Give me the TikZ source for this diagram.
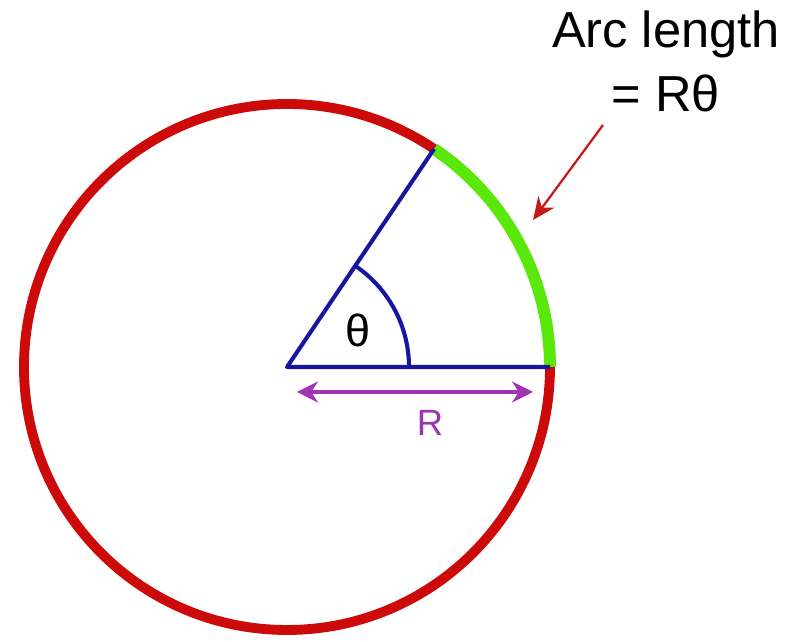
\documentclass[tikz,border=0pt]{standalone}
\usepackage{fontspec}
\setmainfont{Liberation Sans}
\usetikzlibrary{arrows.meta,calc}
\definecolor{rimred}{RGB}{205,10,10}
\definecolor{arcgreen}{RGB}{90,232,10}
\definecolor{radblue}{RGB}{22,22,160}
\definecolor{lenpurple}{RGB}{160,50,180}
\definecolor{ptrred}{RGB}{195,25,25}

\begin{document}
\begin{tikzpicture}[x=0.025cm, y=0.025cm, >=Stealth,
  rim/.style={draw=rimred, line width=7pt},
  arcpart/.style={draw=arcgreen, line width=8.5pt},
  radius line/.style={draw=radblue, line width=2.9pt, line join=round},
  lenarrow/.style={draw=lenpurple, line width=2.2pt, {Stealth[length=15pt,width=15pt,inset=5pt]}-{Stealth[length=15pt,width=15pt,inset=5pt]}},
  pointer/.style={draw=ptrred, line width=1.6pt, -{Stealth[length=16pt,width=14pt]}}]
  \useasboundingbox (0,0) rectangle (804,642);
  \coordinate (O) at (287,275);
  \coordinate (B) at (550,275);
  \coordinate (A) at ($(O)+(56:263)$);
  \draw[rim] (O) circle[radius=263];
  \draw[arcpart] (B) arc[start angle=0, end angle=56, radius=263];
  \draw[radius line] (A) -- (O) -- (B);
  \draw[radius line] ($(O)+(122,0)$) arc[start angle=0, end angle=56, radius=122];
  \node (theta) at (358,312) {\fontsize{32pt}{36pt}\selectfont θ};
  \coordinate (rl) at (297,250); \coordinate (rr) at (533,250);
  \draw[lenarrow] (rl) -- (rr);
  \node[text=lenpurple] (rlab) at (430,219) {\fontsize{26pt}{30pt}\selectfont R};
  \node[anchor=base] (txt1) at (666,594) {\fontsize{36pt}{44pt}\selectfont Arc length};
  \node[anchor=base] (txt2) at (666,530) {\fontsize{36pt}{44pt}\selectfont = Rθ};
  \coordinate (ptail) at (603,517); \coordinate (phead) at (533,422);
  \draw[pointer] (ptail) -- (phead);
\end{tikzpicture}
\end{document}
